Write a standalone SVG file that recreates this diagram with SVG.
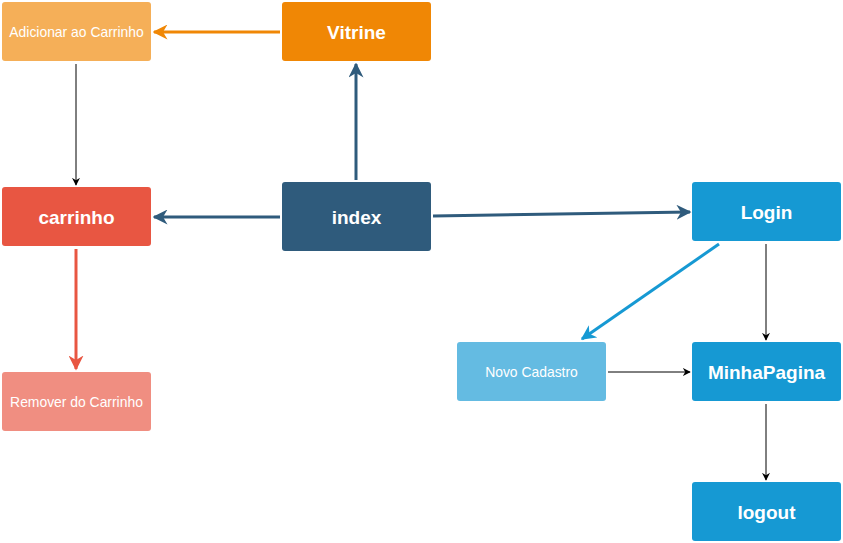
<svg xmlns="http://www.w3.org/2000/svg" width="843" height="543" viewBox="0 0 843 543">
<style>
.n{stroke:none}
.t{font-family:"Liberation Sans",Arial,sans-serif;fill:#fff;text-anchor:middle;dominant-baseline:central}
.b{font-size:19px;font-weight:bold}
.s{font-size:13.9px}
.c{fill:none}
</style>
<defs>
<marker id="mo" viewBox="0 0 10 10" refX="9" refY="5" markerWidth="5" markerHeight="5" orient="auto" markerUnits="strokeWidth"><path d="M0,0 L10,5 L0,10 L3,5 Z" fill="#F08705"/></marker>
<marker id="md" viewBox="0 0 10 10" refX="9" refY="5" markerWidth="5" markerHeight="5" orient="auto" markerUnits="strokeWidth"><path d="M0,0 L10,5 L0,10 L3,5 Z" fill="#2F5B7C"/></marker>
<marker id="mr" viewBox="0 0 10 10" refX="9" refY="5" markerWidth="5" markerHeight="5" orient="auto" markerUnits="strokeWidth"><path d="M0,0 L10,5 L0,10 L3,5 Z" fill="#E85642"/></marker>
<marker id="mb" viewBox="0 0 10 10" refX="9" refY="5" markerWidth="5" markerHeight="5" orient="auto" markerUnits="strokeWidth"><path d="M0,0 L10,5 L0,10 L3,5 Z" fill="#1699D3"/></marker>
<marker id="mk" viewBox="0 0 10 10" refX="9" refY="5" markerWidth="8" markerHeight="8" orient="auto" markerUnits="strokeWidth"><path d="M0,0 L10,5 L0,10 L3,5 Z" fill="#000"/></marker>
</defs>
<g id="connectors" class="c">
<path d="M280,32 L154,32" stroke="#F08705" stroke-width="3" marker-end="url(#mo)"/>
<path d="M76,64 L76,185" stroke="#000" stroke-width="1" marker-end="url(#mk)"/>
<path d="M280,217 L154,217" stroke="#2F5B7C" stroke-width="3" marker-end="url(#md)"/>
<path d="M356,180 L356,64" stroke="#2F5B7C" stroke-width="3" marker-end="url(#md)"/>
<path d="M433,216 L690,212" stroke="#2F5B7C" stroke-width="3" marker-end="url(#md)"/>
<path d="M76,249 L76,369" stroke="#E85642" stroke-width="3" marker-end="url(#mr)"/>
<path d="M719,244 L582,339" stroke="#1699D3" stroke-width="3" marker-end="url(#mb)"/>
<path d="M766,244 L766,340" stroke="#000" stroke-width="1" marker-end="url(#mk)"/>
<path d="M608,372 L690,372" stroke="#000" stroke-width="1" marker-end="url(#mk)"/>
<path d="M766,404 L766,480" stroke="#000" stroke-width="1" marker-end="url(#mk)"/>
</g>
<g id="adicionar"><rect class="n" x="2" y="2" width="149" height="59" rx="3" fill="#F5AF58"/><text class="t s" x="76.5" y="32">Adicionar ao Carrinho</text></g>
<g id="vitrine"><rect class="n" x="282" y="2" width="149" height="59" rx="3" fill="#F08705"/><text class="t b" x="356.5" y="32">Vitrine</text></g>
<g id="carrinho"><rect class="n" x="2" y="187" width="149" height="59" rx="3" fill="#E85642"/><text class="t b" x="76.5" y="217">carrinho</text></g>
<g id="index"><rect class="n" x="282" y="182" width="149" height="69" rx="3" fill="#2F5B7C"/><text class="t b" x="356.5" y="217">index</text></g>
<g id="remover"><rect class="n" x="2" y="372" width="149" height="59" rx="3" fill="#F08E81"/><text class="t s" x="76.5" y="402">Remover do Carrinho</text></g>
<g id="login"><rect class="n" x="692" y="182" width="149" height="59" rx="3" fill="#1699D3"/><text class="t b" x="766.5" y="212">Login</text></g>
<g id="novocadastro"><rect class="n" x="457" y="342" width="149" height="59" rx="3" fill="#64BBE2"/><text class="t s" x="531.5" y="372">Novo Cadastro</text></g>
<g id="minhapagina"><rect class="n" x="692" y="342" width="149" height="59" rx="3" fill="#1699D3"/><text class="t b" x="766.5" y="372">MinhaPagina</text></g>
<g id="logout"><rect class="n" x="692" y="482" width="149" height="59" rx="3" fill="#1699D3"/><text class="t b" x="766.5" y="512">logout</text></g>
</svg>
